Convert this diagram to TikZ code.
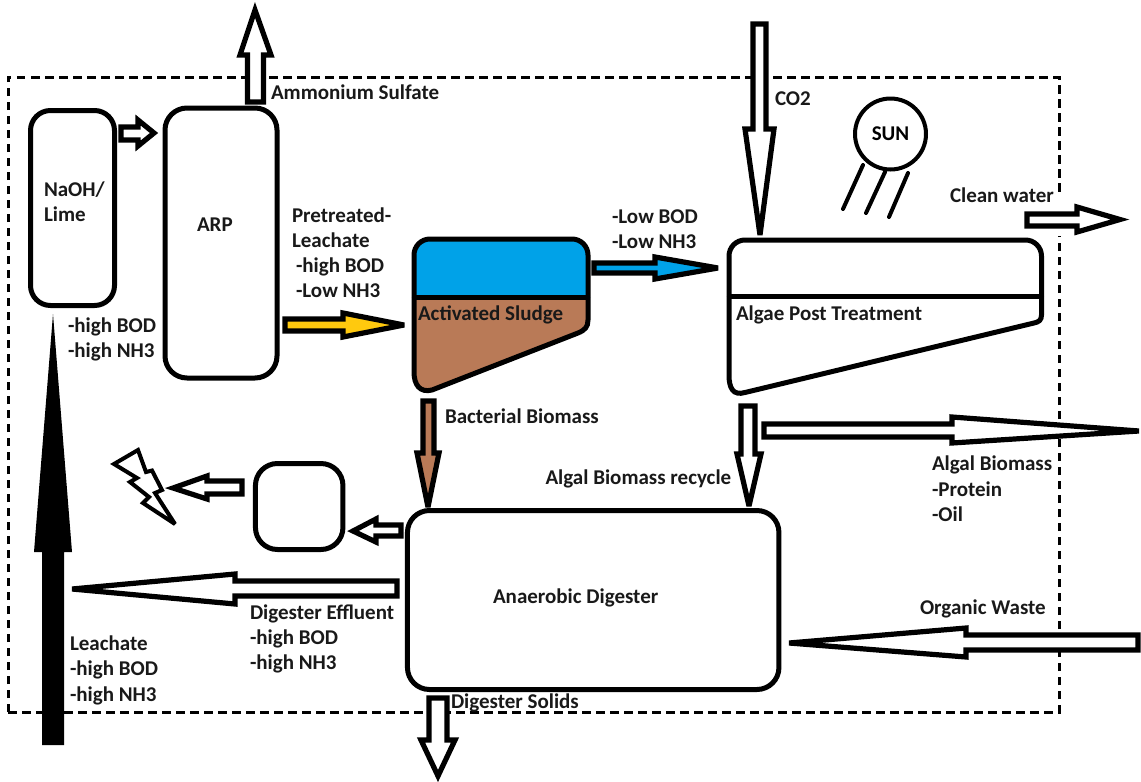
\documentclass[tikz,border=0pt]{standalone}
\usepackage{fontspec}
\setmainfont{Carlito}
\tikzset{
  px/.style={x=1pt,y=-1pt},
  vessel/.style={draw=black,line width=5pt,fill=white,rounded corners=22pt},
  block/.style={draw=black,line width=5.2pt,fill=white,line join=miter,miter limit=4},
  ray/.style={draw=black,line width=4pt,line cap=round},
  boundary/.style={draw=black,line width=3pt,dash pattern=on 8.5pt off 5.5pt},
  lbl/.style={anchor=base west,inner sep=0pt,outer sep=0pt,yshift=-1pt,font=\fontsize{21}{25}\selectfont\bfseries,text=black!90},
}
\definecolor{paintblue}{HTML}{00A2E8}
\definecolor{paintbrown}{HTML}{B97A57}
\definecolor{paintyellow}{HTML}{FFC90E}
\begin{document}
\begin{tikzpicture}[px]
\useasboundingbox (0,0) rectangle (1141,782);
\fill[white] (0,0) rectangle (1141,782);
% system boundary
\coordinate (b1) at (1059,236);
\coordinate (b2) at (1059,712);
\coordinate (b3) at (8,712);
\coordinate (b4) at (8,77);
\coordinate (b5) at (1059,77);
\coordinate (b6) at (1059,195);
\draw[boundary] (b3) -- (b4) -- (b5) -- (b6);
\draw[boundary] (b3) -- (b2) -- (b1);
% vessels
\node[vessel,minimum width=84pt,minimum height=195pt,rounded corners=20pt] (naoh) at (72.5,208) {};
\node[vessel,minimum width=112pt,minimum height=270pt] (arp) at (221,243) {};
\node[vessel,minimum width=87.5pt,minimum height=86pt] (gen) at (299.2,506.5) {};
\node[vessel,minimum width=371.5pt,minimum height=179pt] (ad) at (593.2,600) {};
% activated sludge tank
\fill[paintbrown] (414,290) -- (414,372) .. controls (414,385) and (420,393) .. (432,390) -- (578,333) .. controls (585,330) and (588,327) .. (588,320) -- (588,290) -- cycle;
\fill[paintblue,rounded corners=16pt] (414,297) -- (414,239) -- (588,239) -- (588,297) -- cycle;
\fill[paintblue] (414,280) rectangle (588,297);
\draw[black,line width=5pt,rounded corners=16pt] (414,297) -- (414,239) -- (588,239) -- (588,297);
\draw[black,line width=5pt] (414,297) -- (414,372) .. controls (414,385) and (420,393) .. (432,390) -- (578,333) .. controls (585,330) and (588,327) .. (588,320) -- (588,297);
\draw[black,line width=5pt] (414,297) -- (588,297);
% algae tank
\draw[black,line width=5pt,rounded corners=16pt] (729,296) -- (729,240) -- (1041.5,240) -- (1041.5,296);
\draw[black,line width=5pt] (729,296) -- (729,375) .. controls (729,388) and (733,396) .. (745,392.5) -- (1034,323) .. controls (1039,322) and (1041.5,320) .. (1041.5,315) -- (1041.5,296);
\draw[black,line width=5pt] (729,296) -- (1041.5,296);
% sun
\node[draw=black,line width=4pt,circle,minimum size=71pt,inner sep=0pt,font=\fontsize{21}{25}\selectfont\bfseries] (sun) at (890.5,134) {SUN};
\coordinate (r1a) at (863,165); \coordinate (r1b) at (843,209);
\coordinate (r2a) at (885,172); \coordinate (r2b) at (866,213);
\coordinate (r3a) at (908,173); \coordinate (r3b) at (889,217);
\draw[ray] (r1a) -- (r1b);
\draw[ray] (r2a) -- (r2b);
\draw[ray] (r3a) -- (r3b);
% block arrows
\draw[block] (247.5,102) -- (247.5,55) -- (240,55) -- (255,10) -- (271,55) -- (263.5,55) -- (263.5,102) -- cycle;
\draw[block] (121,127) -- (138,127) -- (138,120) -- (154,133) -- (138,146) -- (138,140) -- (121,140) -- cycle;
\draw[block,fill=paintyellow] (285,319) -- (343,319) -- (343,313) -- (404,325) -- (343,337) -- (343,331) -- (285,331) -- cycle;
\draw[block,fill=paintblue] (594,263) -- (655,263) -- (655,257) -- (718,268) -- (655,279) -- (655,273) -- (594,273) -- cycle;
\draw[block] (753,24) -- (766,24) -- (766,129) -- (774,129) -- (760,235) -- (745,129) -- (753,129) -- cycle;
\draw[block] (1027,214) -- (1077,214) -- (1077,207) -- (1120,219.5) -- (1077,232) -- (1077,226) -- (1027,226) -- cycle;
\draw[block,fill=paintbrown] (423,401) -- (434,401) -- (434,453) -- (439,453) -- (428,507) -- (417,453) -- (423,453) -- cycle;
\draw[block] (741,406) -- (755,406) -- (755,454) -- (761,454) -- (749,506) -- (737,454) -- (741,454) -- cycle;
\draw[block] (764,424) -- (952,424) -- (952,417) -- (1139,431) -- (952,443) -- (952,437) -- (764,437) -- cycle;
\draw[block] (1138,635) -- (966,635) -- (966,628) -- (789,643) -- (966,657) -- (966,650) -- (1138,650) -- cycle;
\draw[block] (429,698) -- (447,698) -- (447,740) -- (455,740) -- (438,776) -- (421,740) -- (429,740) -- cycle;
\fill[black] (42,745) -- (42,552) -- (34,552) -- (53,314) -- (72,552) -- (64,552) -- (64,745) -- cycle;
\draw[block] (397,581) -- (235,581) -- (235,574) -- (72,589) -- (235,604) -- (235,596) -- (397,596) -- cycle;
\draw[block] (242,481) -- (207,481) -- (207,476) -- (173,488) -- (207,499) -- (207,494) -- (242,494) -- cycle;
\draw[block] (401,525) -- (376,525) -- (376,519) -- (353,531) -- (376,542) -- (376,536) -- (401,536) -- cycle;
% lightning
\draw[black,line width=4pt,fill=white,line join=miter,miter limit=4] (114,464) -- (138,450) -- (146,472) -- (152,470.5) -- (162,490) -- (155,493) -- (175,524) -- (143,503) -- (149,497) -- (130,482) -- (137,478) -- cycle;
% labels
\node[lbl] (t1) at (271,98) {Ammonium Sulfate};
\node[lbl] (t2) at (44,195) {NaOH/};
\node[lbl] (t3) at (44,220) {Lime};
\node[lbl] (t4) at (197,230) {ARP};
\node[lbl] (t5) at (292,221) {Pretreated-};
\node[lbl] (t6) at (292,246) {Leachate};
\node[lbl] (t7) at (296,271) {-high BOD};
\node[lbl] (t8) at (296,296) {-Low NH3};
\node[lbl] (t9) at (68,331) {-high BOD};
\node[lbl] (t10) at (68,356) {-high NH3};
\node[lbl] (t11) at (612,222) {-Low BOD};
\node[lbl] (t12) at (612,247) {-Low NH3};
\node[lbl] (t13) at (775,104) {CO2};
\node[lbl] (t14) at (950,201) {Clean water};
\node[lbl] (t15) at (418,319) {Activated Sludge};
\node[lbl] (t16) at (736,319) {Algae Post Treatment};
\node[lbl] (t17) at (445,422) {Bacterial Biomass};
\node[lbl] (t18) at (545.5,483) {Algal Biomass recycle};
\node[lbl] (t19) at (932,469) {Algal Biomass};
\node[lbl] (t20) at (932,495) {-Protein};
\node[lbl] (t21) at (932,520) {-Oil};
\node[lbl] (t22) at (493,602) {Anaerobic Digester};
\node[lbl] (t23) at (920,613) {Organic Waste};
\node[lbl] (t24) at (451,707) {Digester Solids};
\node[lbl] (t25) at (250,618) {Digester Effluent};
\node[lbl] (t26) at (250,643) {-high BOD};
\node[lbl] (t27) at (250,668) {-high NH3};
\node[lbl] (t28) at (70,649) {Leachate};
\node[lbl] (t29) at (70,674) {-high BOD};
\node[lbl] (t30) at (70,700) {-high NH3};
\end{tikzpicture}
\end{document}
